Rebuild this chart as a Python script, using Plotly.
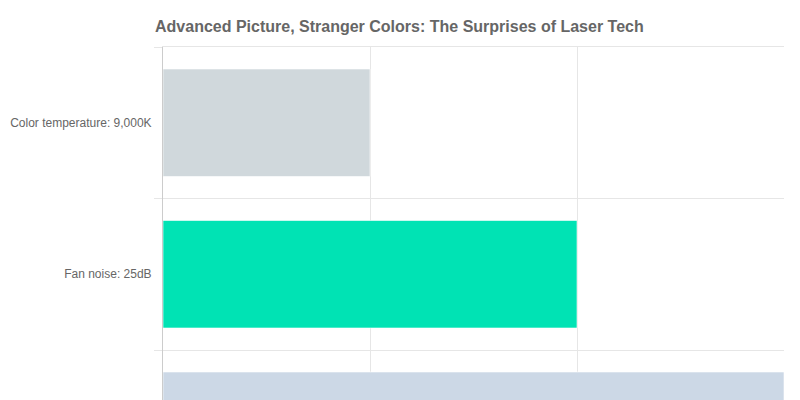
import plotly.graph_objects as go

# Chart data
categories = ["Color temperature: 9,000K", "Fan noise: 25dB", "Brightness: 3,000 lumens"]
values = [1, 2, 3]
bar_colors = ["#d0d8dc", "#00e3b4", "#ccd8e6"]

positions = list(range(len(categories)))
boundaries = [p - 0.5 for p in range(len(categories) + 1)]

fig = go.Figure()

fig.add_trace(go.Bar(
    x=values,
    y=positions,
    orientation="h",
    width=0.71,
    marker=dict(color=bar_colors, line=dict(color="rgba(255,255,255,0.6)", width=1)),
    customdata=categories,
    hovertemplate="%{customdata}: %{x}<extra></extra>",
    showlegend=False
))

# page body adds an 8px offset, so margins are set 8px smaller
fig.update_layout(
    width=800,
    height=400,
    margin=dict(l=155, r=24, t=39, b=0),
    paper_bgcolor="white",
    plot_bgcolor="white",
    font=dict(family="Liberation Sans, Arial, sans-serif", size=12, color="#666666"),
    title=dict(
        text="<b>Advanced Picture, Stranger Colors: The Surprises of Laser Tech</b>",
        x=147 / 800,
        xanchor="left",
        xref="container",
        y=1 - 18 / 400,
        yanchor="middle",
        font=dict(size=16, color="#666666")
    ),
    xaxis=dict(
        range=[0, 3],
        dtick=1,
        showgrid=True,
        gridcolor="#e6e6e6",
        zeroline=False,
        showticklabels=False,
        showline=True,
        linecolor="#e6e6e6",
        mirror=True,
        automargin=False
    ),
    yaxis=dict(
        range=[-0.5 + 361 / 151.5, -0.5],
        tickvals=positions,
        ticktext=categories,
        ticks="",
        showgrid=False,
        zeroline=False,
        showline=True,
        linecolor="#cccccc",
        automargin=False,
        ticklabelstandoff=8,
        minor=dict(
            tickvals=boundaries,
            ticks="outside",
            ticklen=8,
            tickcolor="#e6e6e6",
            showgrid=True,
            gridcolor="#e6e6e6"
        )
    ),
    bargap=0.29
)

fig.write_html("out.html")
